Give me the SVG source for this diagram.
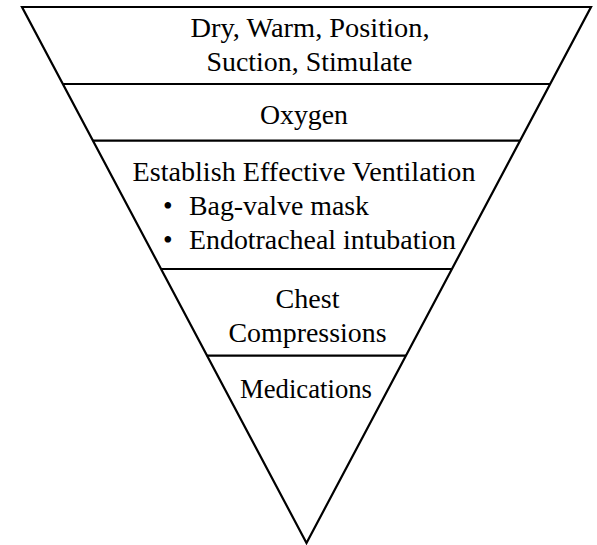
<svg xmlns="http://www.w3.org/2000/svg" width="597" height="545" viewBox="0 0 597 545">
<style>
.edge{fill:none;stroke:#000;stroke-width:2.2;stroke-linejoin:miter}
.t{font-family:"Liberation Serif","Times New Roman",serif;font-size:27.5px;fill:#000}
.c{text-anchor:middle}
</style>
<rect width="597" height="545" fill="#fff"/>
<g id="connectors">
<polygon class="edge" points="22,7 591,7 306.5,543"/>
<line class="edge" x1="62.8" y1="84" x2="550" y2="84"/>
<line class="edge" x1="92.9" y1="140.7" x2="520" y2="140.7"/>
<line class="edge" x1="160.9" y1="269" x2="452" y2="269"/>
<line class="edge" x1="206.8" y1="355.7" x2="406" y2="355.7"/>
</g>
<g id="level1">
<text class="t c" x="310" y="37" textLength="239" lengthAdjust="spacingAndGlyphs">Dry, Warm, Position,</text>
<text class="t c" x="309.5" y="71" textLength="206" lengthAdjust="spacingAndGlyphs">Suction, Stimulate</text>
</g>
<g id="level2">
<text class="t c" x="304" y="123.5" textLength="88" lengthAdjust="spacingAndGlyphs">Oxygen</text>
</g>
<g id="level3">
<text class="t c" x="304" y="181" textLength="343" lengthAdjust="spacingAndGlyphs">Establish Effective Ventilation</text>
<text class="t" x="163" y="215">•</text>
<text class="t" x="189" y="215" textLength="180" lengthAdjust="spacingAndGlyphs">Bag-valve mask</text>
<text class="t" x="163" y="249.3">•</text>
<text class="t" x="189" y="249.3" textLength="267" lengthAdjust="spacingAndGlyphs">Endotracheal intubation</text>
</g>
<g id="level4">
<text class="t c" x="307.5" y="308.3" textLength="64" lengthAdjust="spacingAndGlyphs">Chest</text>
<text class="t c" x="307.5" y="341.7" textLength="158" lengthAdjust="spacingAndGlyphs">Compressions</text>
</g>
<g id="level5">
<text class="t c" x="306" y="398.3" textLength="132" lengthAdjust="spacingAndGlyphs">Medications</text>
</g>
</svg>
